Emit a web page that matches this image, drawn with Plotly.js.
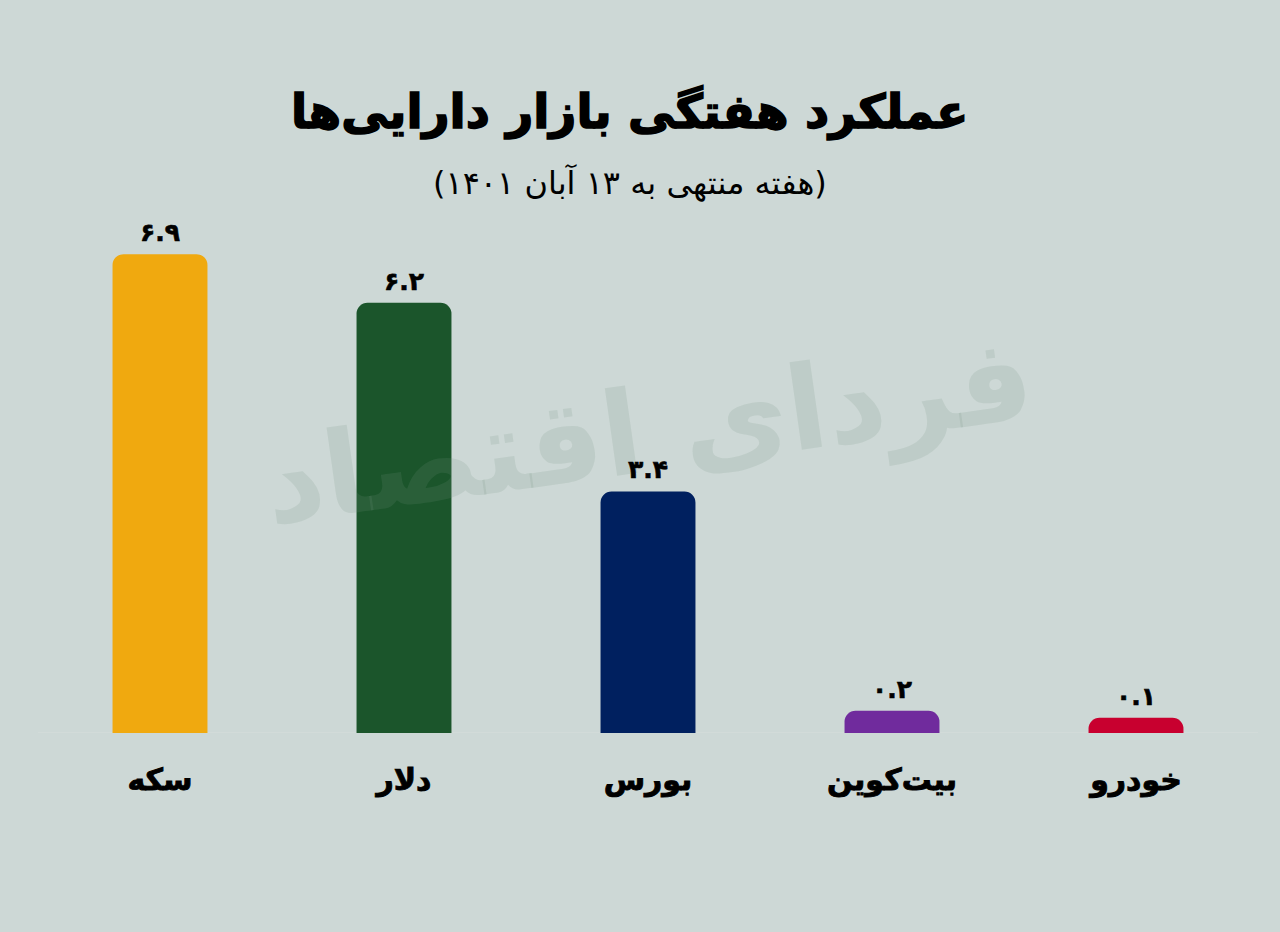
<!DOCTYPE html>
<html><head><meta charset="utf-8">
<script src="https://cdn.plot.ly/plotly-3.0.1.min.js"></script>
<style>html,body{margin:0;padding:0;background:#cdd8d6}
.gtitle{stroke:#000;stroke-width:1.6px}
.xtick text{stroke:#000;stroke-width:.9px}
g.annotation[data-index="2"] text,g.annotation[data-index="3"] text,g.annotation[data-index="4"] text,g.annotation[data-index="5"] text,g.annotation[data-index="6"] text{stroke:#000;stroke-width:.6px}
</style></head>
<body><div id="chart" style="width:1280px;height:932px"></div>
<script>
const titleText = "عملکرد هفتگی بازار دارایی‌ها";
const subtitleText = "(هفته منتهی به ۱۳ آبان ۱۴۰۱)";
const watermarkText = "فردای اقتصاد";
const categories = ["سکه","دلار","بورس","بیت‌کوین","خودرو"];
const valueLabels = ["۶.۹","۶.۲","۳.۴","۰.۲","۰.۱"];
// Bar heights as drawn in the picture (the two small bars are drawn taller than their labels state).
const barHeights = [6.9,6.2,3.48,0.32,0.22];
const barColors = ["#f0a90f","#1b552b","#00205f","#702b9d","#c8002f"];
const fontFamily = "'DejaVu Sans', sans-serif";
const labelAnnotations = categories.map((c,i)=>({
  text:valueLabels[i],x:c,y:barHeights[i],xref:"x",yref:"y",xanchor:"center",yanchor:"bottom",
  showarrow:false,yshift:5,font:{family:fontFamily,size:25,color:"#000",weight:700}
}));
Plotly.newPlot("chart",[{
  type:"bar",x:categories,y:barHeights,width:0.389,
  marker:{color:barColors,line:{width:0}},
  cliponaxis:false,hoverinfo:"skip"
}],{
  width:1280,height:932,
  paper_bgcolor:"#cdd8d6",plot_bgcolor:"#cdd8d6",
  margin:{l:38,r:22,t:200,b:199},
  barcornerradius:11,showlegend:false,
  title:{text:titleText,font:{family:fontFamily,size:47,color:"#000",weight:700},
    x:0.485,xanchor:"center",xref:"paper",y:0.88,yanchor:"middle",yref:"container"},
  xaxis:{type:"category",range:[-0.5,4.5],showgrid:false,zeroline:false,
    showline:false,ticks:"",ticklabelstandoff:26,
    tickfont:{family:fontFamily,size:30,color:"#000",weight:700}},
  yaxis:{range:[0,7.68],visible:false,showgrid:false,zeroline:true},
  shapes:[{type:"line",xref:"paper",yref:"y",x0:0,x1:1,y0:0,y1:0,line:{color:"#d6dfdd",width:1},layer:"below"}],
  annotations:[
   {text:subtitleText,xref:"paper",yref:"paper",x:0.485,y:1.032,xanchor:"center",yanchor:"middle",showarrow:false,
    font:{family:fontFamily,size:32,color:"#000"}},
   {text:watermarkText,xref:"paper",yref:"paper",x:0.5,y:0.565,xanchor:"center",yanchor:"middle",showarrow:false,textangle:-8,
    font:{family:fontFamily,size:116,color:"rgba(120,150,130,0.17)",weight:700}}
  ].concat(labelAnnotations)
},{displayModeBar:false,staticPlot:true});
</script></body></html>
